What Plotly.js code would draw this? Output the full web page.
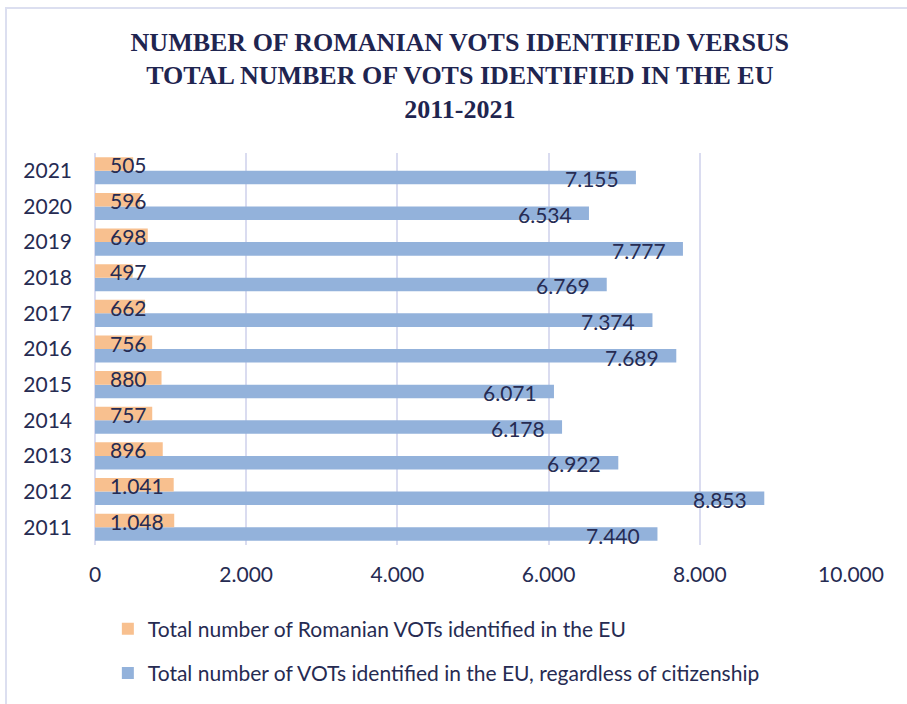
<!DOCTYPE html>
<html>
<head>
<meta charset="utf-8">
<script src="https://cdn.plot.ly/plotly-3.0.1.min.js"></script>
<style>
  html, body { margin: 0; padding: 0; background: #ffffff; }
  #wrap { position: relative; width: 907px; height: 704px; overflow: hidden; }
  #chart { width: 907px; height: 704px; }
  #frame {
    position: absolute; left: 5px; top: 7px; width: 920px; height: 720px;
    border-left: 2px solid #dcdff0; border-top: 2px solid #dcdff0;
    pointer-events: none;
  }
</style>
</head>
<body>
<div id="wrap">
  <div id="chart"></div>
  <div id="frame"></div>
</div>
<script>
// Victims of trafficking (VOTs) identified per year
const years = ['2011', '2012', '2013', '2014', '2015', '2016', '2017', '2018', '2019', '2020', '2021'];
const romanianVots = [1048, 1041, 896, 757, 880, 756, 662, 497, 698, 596, 505];
const totalEuVots = [7440, 8853, 6922, 6178, 6071, 7689, 7374, 6769, 7777, 6534, 7155];

const romanianName = 'Total number of Romanian VOTs identified in the EU';
const totalName = 'Total number of VOTs identified in the EU, regardless of citizenship';

const textColor = '#262b52';
const gridColor = '#dadcf0';
const orange = '#f8c08f';
const blue = '#93b2db';

// dot as thousands separator, e.g. 7.155
function fmt(n) {
  return String(n).replace(/\B(?=(\d{3})+(?!\d))/g, '.');
}

const traces = [
  {
    type: 'bar', orientation: 'h', name: totalName,
    x: totalEuVots, y: years,
    marker: { color: blue },
    legendgroup: 'total', legendrank: 2,
    hoverinfo: 'x+y'
  },
  {
    type: 'bar', orientation: 'h', name: romanianName,
    x: romanianVots, y: years,
    marker: { color: orange },
    legendgroup: 'ro', legendrank: 1,
    hoverinfo: 'x+y'
  }
];

// value labels: Romanian figures sit at the bar base, EU totals at the bar end
// (y given as the category index on the category axis)
const labelFont = { family: 'Lato, "Open Sans", sans-serif', size: 21, color: textColor };
const annotations = [];
years.forEach((yr, i) => {
  annotations.push({
    x: 0, y: i, xref: 'x', yref: 'y',
    text: fmt(romanianVots[i]), showarrow: false,
    xanchor: 'left', yanchor: 'middle', xshift: 13, yshift: 6,
    font: labelFont
  });
  annotations.push({
    x: totalEuVots[i], y: i, xref: 'x', yref: 'y',
    text: fmt(totalEuVots[i]), showarrow: false,
    xanchor: 'right', yanchor: 'middle', xshift: -15, yshift: -8,
    font: labelFont
  });
});

const layout = {
  width: 907, height: 704,
  paper_bgcolor: '#ffffff', plot_bgcolor: '#ffffff',
  margin: { l: 95, r: 56, t: 153, b: 159, autoexpand: false },
  separators: ',.',
  font: { family: 'Lato, "Open Sans", sans-serif', size: 21, color: textColor },
  title: {
    text: 'NUMBER OF ROMANIAN VOTS IDENTIFIED VERSUS<br>TOTAL NUMBER OF VOTS IDENTIFIED IN THE EU<br>2011-2021',
    font: { family: '"Liberation Serif", "Times New Roman", serif', size: 26, color: '#1f2550', weight: 'bold' },
    xref: 'container', x: 0.507, xanchor: 'center',
    yref: 'container', y: 0.928, yanchor: 'top'
  },
  barmode: 'group',
  bargap: 0.24,
  bargroupgap: 0,
  xaxis: {
    range: [0, 10000],
    tickvals: [0, 2000, 4000, 6000, 8000, 10000],
    tickformat: ',d',
    showgrid: true, gridcolor: gridColor, gridwidth: 2,
    zeroline: true, zerolinecolor: gridColor, zerolinewidth: 2,
    showline: false, ticks: '',
    ticklabelstandoff: 15,
    tickfont: { size: 21, color: textColor },
    fixedrange: true
  },
  yaxis: {
    type: 'category',
    categoryorder: 'array', categoryarray: years,
    range: [-0.5, years.length - 0.5],
    autorange: false,
    showgrid: false, zeroline: false, showline: false, ticks: '',
    ticklabelstandoff: 22,
    tickfont: { size: 21, color: textColor },
    fixedrange: true
  },
  showlegend: true,
  legend: {
    orientation: 'v',
    traceorder: 'grouped',
    tracegroupgap: 14,
    x: 0.017, xanchor: 'left',
    y: -0.162, yanchor: 'top',
    font: { size: 21, color: textColor },
    bgcolor: 'rgba(0,0,0,0)'
  },
  annotations: annotations
};

Plotly.newPlot('chart', traces, layout, { displayModeBar: false, staticPlot: true });
</script>
</body>
</html>
